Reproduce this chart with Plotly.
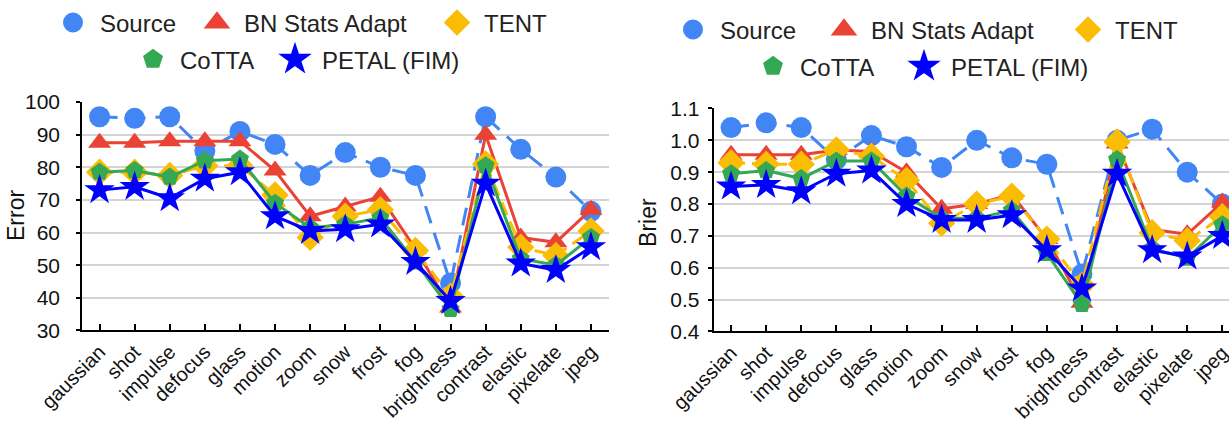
import plotly.graph_objects as go

categories = ["gaussian", "shot", "impulse", "defocus", "glass", "motion", "zoom", "snow",
              "frost", "fog", "brightness", "contrast", "elastic", "pixelate", "jpeg"]

series_names = ["Source", "BN Stats Adapt", "TENT", "CoTTA", "PETAL (FIM)"]

error_source = [95.5, 95, 95.5, 85, 91, 87, 77.5, 84.5, 80, 77.5, 44.5, 95.5, 85.5, 77, 66.5]
error_bn = [87.5, 87.5, 88, 88, 88, 79, 65, 68, 71, 55, 37, 90, 58.5, 57, 67]
error_tent = [78.5, 78.5, 77.5, 80.5, 80.5, 71.5, 58.5, 65, 67, 54.5, 40.5, 81, 55.5, 53, 60.5]
error_cotta = [78.5, 79, 77, 82, 82.5, 69, 61.5, 62.5, 64.5, 51, 36.5, 80.5, 52, 50, 58.5]
error_petal = [73, 74, 70.5, 76.5, 78.5, 65, 60.5, 61, 62.5, 51, 39, 75, 50.5, 48.5, 55.5]

brier_source = [1.04, 1.055, 1.04, 0.94, 1.015, 0.98, 0.915, 1.0, 0.945, 0.925, 0.58, 1.0, 1.035, 0.9, 0.8]
brier_bn = [0.955, 0.955, 0.955, 0.97, 0.965, 0.9, 0.785, 0.8, 0.83, 0.69, 0.49, 0.99, 0.72, 0.705, 0.805]
brier_tent = [0.93, 0.925, 0.925, 0.97, 0.95, 0.875, 0.74, 0.8, 0.825, 0.69, 0.545, 0.995, 0.71, 0.685, 0.76]
brier_cotta = [0.895, 0.905, 0.88, 0.935, 0.935, 0.825, 0.755, 0.755, 0.78, 0.645, 0.485, 0.94, 0.66, 0.63, 0.735]
brier_petal = [0.855, 0.86, 0.84, 0.895, 0.905, 0.8, 0.75, 0.75, 0.765, 0.655, 0.535, 0.895, 0.655, 0.635, 0.70]

error_ticks = [30, 40, 50, 60, 70, 80, 90, 100]
brier_ticks = [0.4, 0.5, 0.6, 0.7, 0.8, 0.9, 1.0, 1.1]
brier_ticklabels = ["0.4", "0.5", "0.6", "0.7", "0.8", "0.9", "1.0", "1.1"]

W, H = 1229, 422
FONT = "Liberation Sans, Arial, sans-serif"

styles = [
    dict(color="#4285F4", symbol="circle", size=21, dash="18px,10px"),
    dict(color="#EA4335", symbol="triangle-up", size=20, dash="solid"),
    dict(color="#FBBC04", symbol="diamond", size=21, dash="14px,7px"),
    dict(color="#34A853", symbol="pentagon", size=19, dash="solid"),
    dict(color="#0000FF", symbol="star", size=23, dash="solid"),
]

fig = go.Figure()

panels = [
    ("x", "y", [error_source, error_bn, error_tent, error_cotta, error_petal], 0),
    ("x2", "y2", [brier_source, brier_bn, brier_tent, brier_cotta, brier_petal], 5),
]

for xa, ya, data, lg0 in panels:
    for i, (name, vals, st) in enumerate(zip(series_names, data, styles)):
        fig.add_trace(go.Scatter(
            x=categories, y=vals, name=name, mode="lines+markers",
            xaxis=xa, yaxis=ya, showlegend=False,
            line=dict(color=st["color"], width=3, dash=st["dash"]),
            marker=dict(color=st["color"], symbol=st["symbol"], size=st["size"],
                        line=dict(width=0)),
        ))
    # legend entries (marker only, like the reference)
    for i, (name, st) in enumerate(zip(series_names, styles)):
        k = lg0 + i
        lg = "legend" if k == 0 else f"legend{k + 1}"
        fig.add_trace(go.Scatter(
            x=[categories[0]], y=[None], name=name, mode="markers",
            xaxis=xa, yaxis=ya, legend=lg, showlegend=True,
            marker=dict(color=st["color"], symbol=st["symbol"], size=16,
                        line=dict(width=4, color=st["color"])),
        ))

# legend positions (marker center x, row center y) in pixels
legend_pos = [
    (73, 21), (217, 21), (457, 21), (153, 58), (295, 58),
    (693, 28), (844, 28), (1088, 28), (773, 65), (924, 65),
]
ITEMW = 44
layout_legends = {}
for k, (px, py) in enumerate(legend_pos):
    key = "legend" if k == 0 else f"legend{k + 1}"
    layout_legends[key] = dict(
        x=(px - (5 + ITEMW / 2)) / W, y=1 - py / H, xanchor="left", yanchor="middle",
        orientation="h", bgcolor="rgba(0,0,0,0)", itemwidth=ITEMW,
        font=dict(family=FONT, size=24, color="#222222"),
    )

axis_common_x = dict(
    type="category", showline=True, linecolor="black", linewidth=2,
    ticks="inside", ticklen=6, tickwidth=1.5, tickcolor="black",
    tickangle=-45, tickfont=dict(family=FONT, size=20, color="#111111"),
    showgrid=False, zeroline=False, automargin=False,
)
axis_common_y = dict(
    showline=True, linecolor="black", linewidth=1.5,
    ticks="outside", ticklen=4, tickwidth=1.5, tickcolor="black",
    tickfont=dict(family=FONT, size=21, color="#111111"),
    showgrid=True, gridcolor="#D4D4D4", gridwidth=2, zeroline=False, automargin=False,
)

fig.update_layout(
    width=W, height=H,
    margin=dict(l=0, r=0, t=0, b=0),
    paper_bgcolor="white", plot_bgcolor="white",
    font=dict(family=FONT),
    xaxis=dict(axis_common_x, domain=[82 / W, 608.5 / W], range=[-0.5, 14.5], anchor="y"),
    yaxis=dict(axis_common_y, domain=[(H - 330) / H, (H - 100.5) / H], range=[30, 100],
               tickvals=error_ticks, anchor="x", ticklabelstandoff=12),
    xaxis2=dict(axis_common_x, domain=[713.5 / W, 1.0], range=[-0.5, 14.19], anchor="y2"),
    yaxis2=dict(axis_common_y, domain=[(H - 331) / H, (H - 107) / H], range=[0.4, 1.1],
                tickvals=brier_ticks, ticktext=brier_ticklabels, anchor="x2",
                ticklabelstandoff=4),
    annotations=[
        dict(text="Error", x=16 / W, y=1 - 215 / H, xref="paper", yref="paper",
             xanchor="center", yanchor="middle",
             showarrow=False, textangle=-90, font=dict(family=FONT, size=23, color="#111111")),
        dict(text="Brier", x=648 / W, y=1 - 222 / H, xref="paper", yref="paper",
             xanchor="center", yanchor="middle",
             showarrow=False, textangle=-90, font=dict(family=FONT, size=23, color="#111111")),
    ],
    **layout_legends,
)

fig.write_html("out.html")
